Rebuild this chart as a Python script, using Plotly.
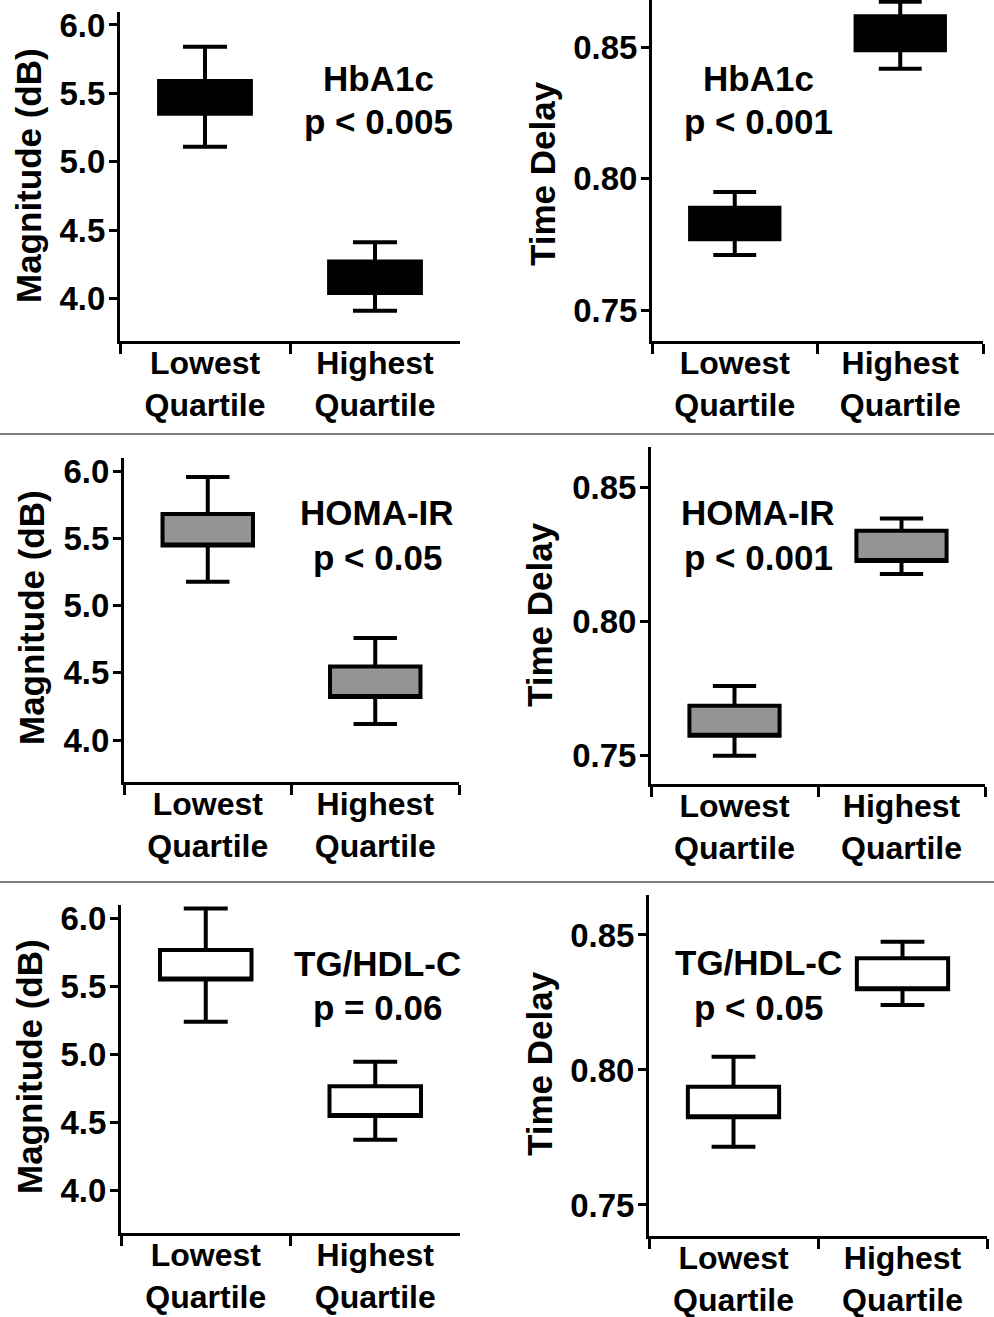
import plotly.graph_objects as go

# ---------------- data ----------------
categories = ["Lowest<br>Quartile", "Highest<br>Quartile"]

hba1c_mag_low = [5.11, 3.91]
hba1c_mag_q1 = [5.35, 4.04]
hba1c_mag_q3 = [5.59, 4.27]
hba1c_mag_high = [5.84, 4.41]

hba1c_td_low = [0.771, 0.842]
hba1c_td_q1 = [0.777, 0.849]
hba1c_td_q3 = [0.789, 0.862]
hba1c_td_high = [0.795, 0.8675]

homa_mag_low = [5.18, 4.12]
homa_mag_q1 = [5.45, 4.32]
homa_mag_q3 = [5.685, 4.547]
homa_mag_high = [5.96, 4.76]

homa_td_low = [0.750, 0.8177]
homa_td_q1 = [0.7575, 0.8225]
homa_td_q3 = [0.7686, 0.8338]
homa_td_high = [0.776, 0.8384]

tg_mag_low = [5.24, 4.373]
tg_mag_q1 = [5.55, 4.549]
tg_mag_q3 = [5.767, 4.767]
tg_mag_high = [6.073, 4.946]

tg_td_low = [0.7716, 0.8241]
tg_td_q1 = [0.7825, 0.8299]
tg_td_q3 = [0.7938, 0.8414]
tg_td_high = [0.8049, 0.8475]

mag_ticks = [4.0, 4.5, 5.0, 5.5, 6.0]
td_ticks = [0.75, 0.80, 0.85]

group_names = ["HbA1c", "HbA1c", "HOMA-IR", "HOMA-IR", "TG/HDL-C", "TG/HDL-C"]
p_values = ["p < 0.005", "p < 0.001", "p < 0.05", "p < 0.001", "p = 0.06", "p < 0.05"]
y_titles = ["Magnitude (dB)", "Time Delay"] * 3

# ---------------- styling / layout ----------------
W, H = 994, 1317
FONT = "Liberation Sans, Arial, Helvetica, sans-serif"

panels = [
    # data, fill, x-domain px, y-domain px, y range, ticks, fmt, label px (x, name y, p y), title center px
    (dict(low=hba1c_mag_low, q1=hba1c_mag_q1, q3=hba1c_mag_q3, high=hba1c_mag_high), "black",
     (120, 460), (12, 341), (3.688, 6.095), mag_ticks, ".1f", (378, 78, 122), (29, 176)),
    (dict(low=hba1c_td_low, q1=hba1c_td_q1, q3=hba1c_td_q3, high=hba1c_td_high), "black",
     (652, 983), (0, 341), (0.7382, 0.8682), td_ticks, ".2f", (758, 78, 122), (543, 174)),
    (dict(low=homa_mag_low, q1=homa_mag_q1, q3=homa_mag_q3, high=homa_mag_high), "#949494",
     (124, 459), (458, 782), (3.687, 6.102), mag_ticks, ".1f", (377, 513, 557), (31, 618)),
    (dict(low=homa_td_low, q1=homa_td_q1, q3=homa_td_q3, high=homa_td_high), "#949494",
     (651, 985), (447, 784), (0.7395, 0.8650), td_ticks, ".2f", (758, 512, 557), (539, 615)),
    (dict(low=tg_mag_low, q1=tg_mag_q1, q3=tg_mag_q3, high=tg_mag_high), "white",
     (121, 460), (905, 1233), (3.689, 6.098), mag_ticks, ".1f", (377, 963, 1007), (29, 1067)),
    (dict(low=tg_td_low, q1=tg_td_q1, q3=tg_td_q3, high=tg_td_high), "white",
     (649, 987), (895, 1236), (0.7385, 0.8648), td_ticks, ".2f", (758, 962, 1007), (539, 1064)),
]

fig = go.Figure()
layout = dict(width=W, height=H, margin=dict(l=0, r=0, t=0, b=0, autoexpand=False),
              paper_bgcolor="white", plot_bgcolor="white", showlegend=False,
              font=dict(family=FONT, size=33, color="black", weight="bold"))
annotations = []

for i, (d, fill, xd, yd, yr, tv, fmt, lab, tpos) in enumerate(panels):
    n = i + 1
    xa = "x" if n == 1 else f"x{n}"
    ya = "y" if n == 1 else f"y{n}"
    fig.add_trace(go.Box(
        x=categories, q1=d["q1"], median=d["q1"], q3=d["q3"],
        lowerfence=d["low"], upperfence=d["high"],
        xaxis=xa, yaxis=ya, fillcolor=fill,
        line=dict(color="black", width=4), width=0.54, whiskerwidth=0.48,
        boxpoints=False, hoverinfo="skip"))
    xdom = [xd[0] / W, xd[1] / W]
    ydom = [1 - yd[1] / H, 1 - yd[0] / H]
    layout[f"xaxis{'' if n == 1 else n}"] = dict(
        domain=xdom, anchor=ya, type="category", categoryorder="array",
        categoryarray=categories, range=[-0.5, 1.5], tickson="boundaries",
        ticks="outside", ticklen=10, tickwidth=3, tickcolor="black", automargin=False,
        ticklabelstandoff=-8,
        showline=True, linewidth=3, linecolor="black", showgrid=False, zeroline=False,
        tickfont=dict(family=FONT, size=32, color="black", weight="bold"))
    layout[f"yaxis{'' if n == 1 else n}"] = dict(
        domain=ydom, anchor=xa, range=list(yr), tickvals=tv, tickformat=fmt,
        ticks="outside", ticklen=8, tickwidth=3, tickcolor="black", automargin=False,
        ticklabelstandoff=-3,
        showline=True, linewidth=3, linecolor="black", showgrid=False, zeroline=False,
        tickfont=dict(family=FONT, size=33, color="black", weight="bold"))
    # upward half of the middle boundary tick
    m = n + 6
    layout[f"xaxis{m}"] = dict(
        overlaying=xa, anchor=ya, range=[-0.5, 1.5], tickvals=[0.5], ticks="inside",
        ticklen=8, tickwidth=3, tickcolor="black", showticklabels=False, automargin=False,
        showline=False, showgrid=False, zeroline=False, side="bottom")
    for txt, yy in ((group_names[i], lab[1]), (p_values[i], lab[2])):
        annotations.append(dict(
            text=txt, xref="paper", yref="paper",
            x=lab[0] / W, y=1 - yy / H, xanchor="center", yanchor="middle", showarrow=False,
            font=dict(family=FONT, size=35, color="black", weight="bold")))
    annotations.append(dict(
        text=y_titles[i], xref="paper", yref="paper",
        x=tpos[0] / W, y=1 - tpos[1] / H, xanchor="center", yanchor="middle",
        textangle=-90, showarrow=False,
        font=dict(family=FONT, size=35, color="black", weight="bold")))

layout["annotations"] = annotations
layout["shapes"] = [
    dict(type="line", xref="paper", yref="paper", x0=0, x1=1,
         y0=1 - 434 / H, y1=1 - 434 / H, line=dict(color="#555555", width=1.5)),
    dict(type="line", xref="paper", yref="paper", x0=0, x1=1,
         y0=1 - 882 / H, y1=1 - 882 / H, line=dict(color="#555555", width=1.5)),
]
fig.update_layout(**layout)
fig.write_html("out.html", config={"displayModeBar": False},
               post_script="document.body.style.margin='0';document.body.style.overflow='hidden';")
